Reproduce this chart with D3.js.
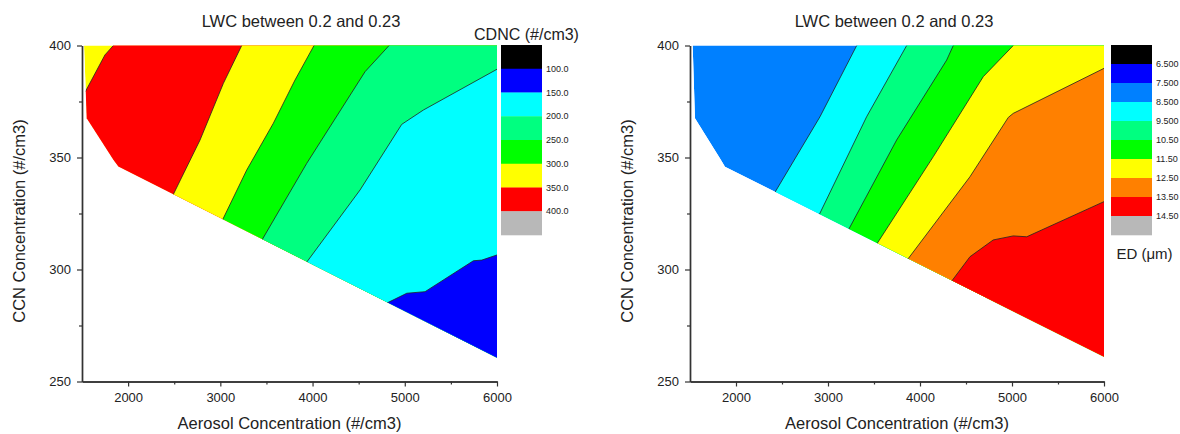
<!DOCTYPE html>
<html>
<head>
<meta charset="utf-8">
<script src="https://cdn.jsdelivr.net/npm/d3@7"></script>
<style>
  body { margin: 0; background: #fff; }
  svg { display: block; }
  text { font-family: Arial, "Liberation Sans", sans-serif; fill: #222; }
</style>
</head>
<body>
<div id="chart"></div>
<script>
'use strict'

/*
 Data (aerosol #/cm3, CCN #/cm3)
*/
let titleText = 'LWC between 0.2 and 0.23'
let xLabel = 'Aerosol Concentration (#/cm3)'
let yLabel = 'CCN Concentration (#/cm3)'
let xDomain = [1500, 6000]
let yDomain = [250, 400]
let xMajor = [2000, 3000, 4000, 5000, 6000]
let xMinor = [2500, 3500, 4500, 5500]
let yMajor = [250, 300, 350, 400]
let yMinor = [275, 325, 375]

// CDNC panel: outline of the data area and the contour lines (upper/right end first)
let cdncArea = [[1522, 400], [6000, 400], [6000, 260.6], [1894, 346], [1840, 349], [1551, 367.5]]
let cdncLines = [
  [[1840, 400], [1749, 395.8], [1535, 379.3]],
  [[3232, 400], [3033, 383.1], [2780, 357.8], [2484, 333]],
  [[4016, 400], [3810, 384.6], [3575, 365.3], [3286, 344.4], [3022, 322]],
  [[4830, 400], [4569, 388.3], [3937, 347.4], [3449, 313]],
  [[6000, 389.4], [5202, 371.2], [4967, 364.8], [4515, 335.5], [3937, 303.3]],
  [[6000, 306.5], [5835, 304.2], [5744, 303.9], [5220, 290.1], [5022, 289.4], [4805, 285]]
]
let cdncTitle = 'CDNC (#/cm3)'
let cdncLevels = ['100.0', '150.0', '200.0', '250.0', '300.0', '350.0', '400.0']

// ED panel
let edArea = [[1529, 400], [6000, 400], [6000, 261], [1880, 345.9], [1835, 349], [1554, 367.5]]
let edLines = [
  [[3312, 400], [2913, 368.2], [2424, 334.5]],
  [[3855, 400], [3420, 368.2], [2905, 324.5]],
  [[4362, 400], [4290, 393.5], [3746, 357.8], [3221, 317.6]],
  [[5014, 400], [4688, 386.1], [4145, 350.4], [3529, 311.3]],
  [[6000, 389.8], [5014, 369.7], [4960, 367.9], [4543, 341.4], [3862, 304.3]],
  [[6000, 330.3], [5160, 314.6], [5014, 315], [4796, 313.2], [4543, 305.7], [4344, 294.8]]
]
let edTitle = 'ED (μm)'
let edLevels = ['6.500', '7.500', '8.500', '9.500', '10.50', '11.50', '12.50', '13.50', '14.50']

/*
 Styles
*/
let cdncBandColors = ['#ffff00', '#ff0000', '#ffff00', '#00ff00', '#00ff80', '#00ffff', '#0000ff']
let cdncBarColors = ['#000000', '#0000ff', '#00ffff', '#00ff80', '#00ff00', '#ffff00', '#ff0000', '#b8b8b8']
let edBandColors = ['#0080ff', '#00ffff', '#00ff80', '#00ff00', '#ffff00', '#ff8000', '#ff0000']
let edBarColors = ['#000000', '#0000ff', '#0080ff', '#00ffff', '#00ff80', '#00ff00', '#ffff00', '#ff8000', '#ff0000', '#b8b8b8']
let axisColor = '#333'

let svg = d3.select('#chart').append('svg')
  .attr('width', 1180)
  .attr('height', 434)

function paint(p) {
  let x = d3.scaleLinear().domain(xDomain).range([p.left, p.right])
  let y = d3.scaleLinear().domain(yDomain).range([p.bottom, p.top])
  let line = d3.line().x(d => x(d[0])).y(d => y(d[1]))
  let g = svg.append('g')

  g.append('clipPath').attr('id', p.id)
    .append('path').attr('d', line(p.area) + 'Z')

  let plot = g.append('g').attr('clip-path', 'url(#' + p.id + ')')

  // first band fills the whole area, each next band covers the side past its line
  plot.append('path')
    .attr('d', line(p.area) + 'Z')
    .attr('fill', p.bands[0])

  p.lines.forEach(function (l, i) {
    let first = l[0], last = l[l.length - 1]
    let poly = l.concat([[last[0], 200], [7000, 200], [7000, 450], [first[0], 450]])
    plot.append('path')
      .attr('d', line(poly) + 'Z')
      .attr('fill', p.bands[i + 1])
  })

  plot.selectAll('.contour')
    .data(p.lines)
    .enter()
    .append('path')
    .attr('d', line)
    .attr('fill', 'none')
    .attr('stroke', '#222')
    .attr('stroke-width', 0.8)

  // axes
  let xa = g.append('g').attr('transform', 'translate(0,' + p.bottom + ')')
  xa.call(d3.axisBottom(x).tickValues(xMajor).tickSize(5).tickSizeOuter(0).tickPadding(6).tickFormat(d3.format('d')))
  xa.append('g').call(d3.axisBottom(x).tickValues(xMinor).tickSize(3).tickSizeOuter(0).tickFormat(''))
  let ya = g.append('g').attr('transform', 'translate(' + p.left + ',0)')
  ya.call(d3.axisLeft(y).tickValues(yMajor).tickSize(5).tickSizeOuter(0).tickPadding(6).tickFormat(d3.format('d')))
  ya.append('g').call(d3.axisLeft(y).tickValues(yMinor).tickSize(3).tickSizeOuter(0).tickFormat(''))
  g.selectAll('.domain').attr('stroke', axisColor).attr('stroke-width', 1.4)
  g.selectAll('.tick line').attr('stroke', axisColor).attr('stroke-width', 1.2)
  g.selectAll('.tick text').style('font-size', '13px').attr('fill', '#333')

  // titles
  g.append('text')
    .attr('x', p.titleX).attr('y', 27)
    .attr('text-anchor', 'middle')
    .style('font-size', '16.5px')
    .text(titleText)
  g.append('text')
    .attr('x', (p.left + p.right) / 2).attr('y', 428.5)
    .attr('text-anchor', 'middle')
    .style('font-size', '16.5px')
    .text(xLabel)
  g.append('text')
    .attr('transform', 'translate(' + (p.left - 57.5) + ',' + 221 + ') rotate(-90)')
    .attr('text-anchor', 'middle')
    .style('font-size', '16.5px')
    .text(yLabel)

  // colour bar
  let n = p.barColors.length
  let cb = d3.scaleLinear().domain([0, n]).range([p.barTop, p.barBottom])
  g.selectAll('.swatch')
    .data(p.barColors)
    .enter()
    .append('rect')
    .attr('x', p.barX)
    .attr('y', (d, i) => cb(i))
    .attr('width', p.barW)
    .attr('height', (d, i) => cb(i + 1) - cb(i) + 0.3)
    .attr('fill', d => d)
  g.selectAll('.lvl')
    .data(p.levels)
    .enter()
    .append('text')
    .attr('x', p.barX + p.barW + 4)
    .attr('y', (d, i) => cb(i + 1) + 3.2)
    .style('font-size', '9px')
    .attr('fill', '#444')
    .text(d => d)
  g.append('text')
    .attr('x', p.barTitleX).attr('y', p.barTitleY)
    .attr('text-anchor', 'middle')
    .style('font-size', p.barTitleSize)
    .text(p.barTitle)
}

paint({
  id: 'clip-cdnc', left: 82, right: 497, top: 45.5, bottom: 381.5, titleX: 301,
  area: cdncArea, lines: cdncLines, bands: cdncBandColors,
  barX: 501, barW: 41, barTop: 45, barBottom: 235,
  barColors: cdncBarColors, levels: cdncLevels,
  barTitle: cdncTitle, barTitleX: 526.5, barTitleY: 39.5, barTitleSize: '16px'
})

paint({
  id: 'clip-ed', left: 690, right: 1104, top: 45.5, bottom: 381.5, titleX: 894,
  area: edArea, lines: edLines, bands: edBandColors,
  barX: 1111, barW: 41, barTop: 45, barBottom: 235,
  barColors: edBarColors, levels: edLevels,
  barTitle: edTitle, barTitleX: 1144.5, barTitleY: 258.5, barTitleSize: '15px'
})
</script>
</body>
</html>
